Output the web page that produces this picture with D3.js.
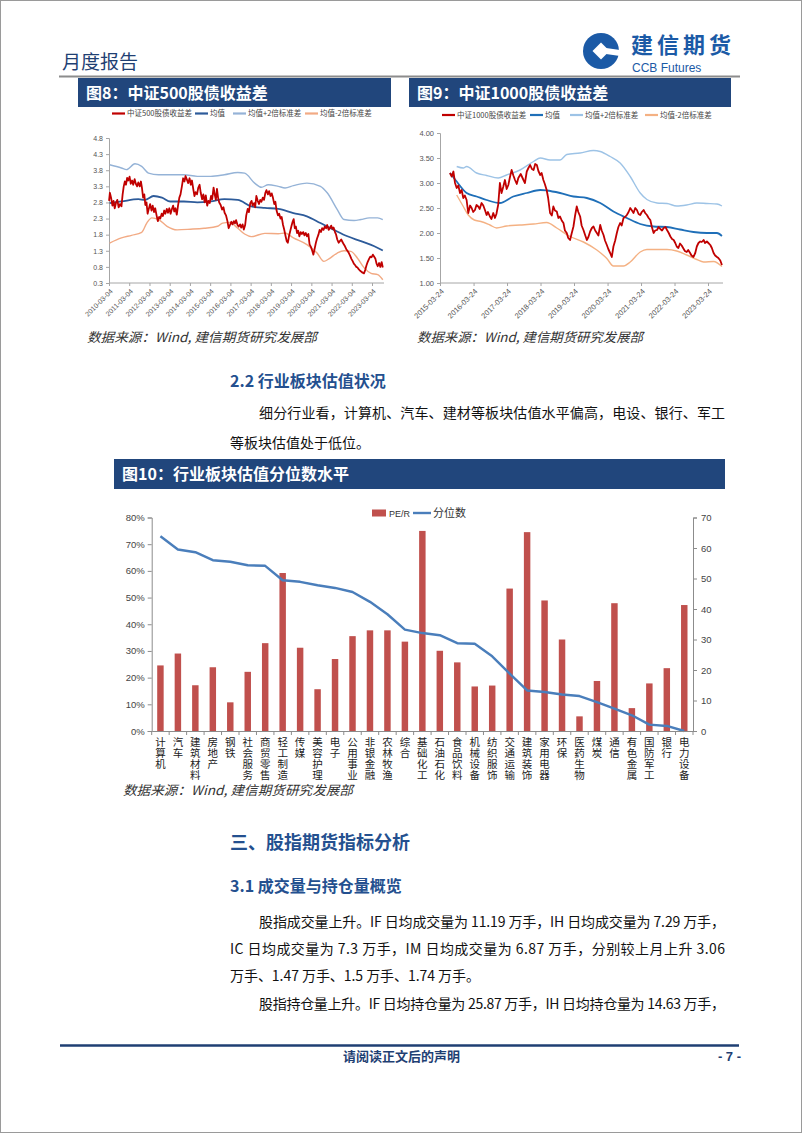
<!DOCTYPE html>
<html>
<head>
<meta charset="utf-8">
<script src="https://cdn.jsdelivr.net/npm/d3@7"></script>
<style>
  body { margin: 0; background: #fff; }
  svg { display: block; font-family: "Noto Sans CJK SC", "Noto Sans", sans-serif; }
</style>
</head>
<body>
<svg id="page" width="802" height="1133"></svg>
<script>
// ---------- 数据 ----------
// 图8 中证500股债收益差
var fig8Spread = [
  ['2010-03-05',2.85],['2010-03-20',3.10],['2010-04-10',2.95],['2010-05-05',2.70],['2010-05-25',2.85],['2010-06-15',2.62],
  ['2010-07-10',2.80],['2010-08-01',2.88],['2010-08-25',2.65],['2010-09-20',2.75],['2010-10-15',2.68],['2010-11-05',3.05],
  ['2010-11-25',3.30],['2010-12-15',3.45],['2011-01-05',3.35],['2011-01-25',3.56],['2011-02-15',3.48],['2011-03-10',3.60],
  ['2011-04-01',3.38],['2011-04-25',3.48],['2011-05-15',3.35],['2011-06-10',3.52],['2011-07-01',3.38],['2011-07-25',3.30],
  ['2011-08-15',3.42],['2011-09-10',3.30],['2011-10-01',3.45],['2011-10-20',3.25],['2011-11-10',2.95],['2011-12-01',3.05],
  ['2011-12-20',2.72],['2012-01-10',2.80],['2012-01-30',2.45],['2012-02-20',2.60],['2012-03-15',2.75],['2012-04-10',2.55],
  ['2012-05-01',2.70],['2012-05-25',2.50],['2012-06-15',2.62],['2012-07-10',2.40],['2012-08-01',2.22],['2012-08-25',2.35],
  ['2012-09-15',2.30],['2012-10-10',2.45],['2012-11-01',2.38],['2012-11-25',2.55],['2012-12-15',2.45],['2013-01-10',2.60],
  ['2013-02-01',2.48],['2013-02-25',2.62],['2013-03-20',2.45],['2013-04-10',2.58],['2013-05-05',2.70],['2013-05-25',2.52],
  ['2013-06-15',2.62],['2013-07-10',2.42],['2013-08-01',2.70],['2013-08-25',2.95],['2013-09-15',3.05],['2013-10-10',3.30],
  ['2013-11-01',3.55],['2013-11-25',3.45],['2013-12-15',3.62],['2014-01-10',3.50],['2014-02-01',3.40],['2014-02-25',3.55],
  ['2014-03-20',3.35],['2014-04-10',3.48],['2014-05-05',3.20],['2014-05-25',3.00],['2014-06-15',3.12],['2014-07-10',3.05],
  ['2014-08-01',3.25],['2014-08-25',3.35],['2014-09-15',3.10],['2014-10-10',2.90],['2014-11-01',3.05],['2014-11-25',2.80],
  ['2014-12-15',3.02],['2015-01-10',2.70],['2015-02-01',2.85],['2015-02-25',2.78],['2015-03-20',3.00],['2015-04-10',2.90],
  ['2015-05-05',3.26],['2015-05-25',3.05],['2015-06-15',2.88],['2015-07-05',3.22],['2015-07-25',2.95],['2015-08-15',2.80],
  ['2015-09-10',2.72],['2015-10-05',2.58],['2015-10-30',2.65],['2015-11-20',2.48],['2015-12-15',2.40],['2016-01-10',2.22],
  ['2016-02-01',2.00],['2016-02-25',2.10],['2016-03-20',2.20],['2016-04-10',2.12],['2016-05-05',2.22],['2016-05-25',2.15],
  ['2016-06-15',2.25],['2016-07-10',2.10],['2016-08-01',2.05],['2016-08-25',2.12],['2016-09-15',2.02],['2016-10-10',2.12],
  ['2016-11-01',1.96],['2016-11-25',2.10],['2016-12-15',2.40],['2017-01-10',2.60],['2017-02-01',2.50],['2017-02-25',2.78],
  ['2017-03-20',2.85],['2017-04-10',2.70],['2017-05-05',2.78],['2017-05-25',2.65],['2017-06-15',3.00],['2017-07-10',2.85],
  ['2017-08-01',2.75],['2017-08-25',2.88],['2017-09-15',2.82],['2017-10-10',2.95],['2017-11-01',2.88],['2017-11-25',3.10],
  ['2017-12-15',3.18],['2018-01-10',3.05],['2018-02-01',3.15],['2018-02-25',3.00],['2018-03-20',3.08],['2018-04-10',2.95],
  ['2018-05-05',2.75],['2018-05-25',2.82],['2018-06-15',2.55],['2018-07-10',2.40],['2018-08-01',2.45],['2018-08-25',2.30],
  ['2018-09-15',2.35],['2018-10-10',2.10],['2018-11-01',1.95],['2018-11-25',1.75],['2018-12-15',1.60],['2019-01-05',1.55],
  ['2019-01-25',1.75],['2019-02-15',1.90],['2019-03-10',2.06],['2019-04-01',2.20],['2019-04-20',2.28],['2019-05-10',2.00],
  ['2019-05-30',2.05],['2019-06-20',1.85],['2019-07-10',1.92],['2019-08-01',1.75],['2019-08-25',1.88],['2019-09-15',1.82],
  ['2019-10-10',1.88],['2019-11-01',1.78],['2019-11-25',1.85],['2019-12-15',1.75],['2020-01-10',1.82],['2020-02-01',1.50],
  ['2020-02-25',1.42],['2020-03-20',1.30],['2020-04-10',1.18],['2020-05-01',1.35],['2020-05-25',1.55],['2020-06-15',1.68],
  ['2020-07-10',1.80],['2020-08-01',1.95],['2020-08-25',1.88],['2020-09-15',2.00],['2020-10-10',1.95],['2020-11-01',2.05],
  ['2020-11-25',2.00],['2020-12-15',2.10],['2021-01-10',1.95],['2021-02-01',2.00],['2021-02-25',2.08],['2021-03-20',1.98],
  ['2021-04-10',2.02],['2021-05-05',1.88],['2021-05-25',1.80],['2021-06-15',1.65],['2021-07-10',1.55],['2021-08-01',1.60],
  ['2021-08-25',1.65],['2021-09-15',1.58],['2021-10-10',1.50],['2021-11-01',1.44],['2021-11-25',1.35],['2021-12-15',1.30],
  ['2022-01-10',1.23],['2022-02-01',1.15],['2022-02-25',1.05],['2022-03-20',0.98],['2022-04-10',0.90],['2022-05-05',0.85],
  ['2022-05-25',0.80],['2022-06-15',0.78],['2022-07-10',0.72],['2022-08-01',0.68],['2022-08-25',0.65],['2022-09-15',0.62],
  ['2022-10-10',0.60],['2022-11-01',0.70],['2022-11-25',0.85],['2022-12-15',0.95],['2023-01-10',1.05],['2023-02-01',1.12],
  ['2023-02-25',1.10],['2023-03-20',1.18],['2023-04-10',1.12],['2023-05-05',1.05],['2023-05-25',0.90],['2023-06-15',0.82],
  ['2023-07-10',0.92],['2023-08-01',0.80],['2023-08-25',0.95],['2023-09-15',0.78]
];
var fig8Mean = [
  ['2010-03-15',2.78],['2010-10-15',2.83],['2011-08-15',2.90],['2011-12-15',2.88],['2012-05-15',3.00],['2012-10-15',2.95],
  ['2013-03-15',2.83],['2013-11-15',2.83],['2014-07-15',2.80],['2015-03-15',2.83],['2015-11-15',2.90],['2016-07-15',2.88],
  ['2017-03-15',2.68],['2017-11-15',2.63],['2018-07-15',2.60],['2019-04-15',2.47],['2019-12-15',2.37],['2020-08-15',2.16],
  ['2021-04-15',1.95],['2021-12-15',1.75],['2022-08-15',1.60],['2023-04-15',1.44],['2023-09-15',1.31]
];
var fig8Upper = [
  ['2010-03-15',3.97],['2010-10-15',3.87],['2011-01-15',3.82],['2011-06-15',4.00],['2011-10-15',3.92],['2012-02-15',3.71],
  ['2012-08-15',3.66],['2013-03-15',3.66],['2013-11-15',3.66],['2014-07-15',3.61],['2015-03-15',3.61],['2015-11-15',3.66],
  ['2016-07-15',3.73],['2016-11-15',3.71],['2017-05-15',3.40],['2017-09-15',3.27],['2018-01-15',3.35],['2018-07-15',3.30],
  ['2018-11-15',3.25],['2019-04-15',3.32],['2019-12-15',3.40],['2020-08-15',3.30],['2020-12-15',3.10],['2021-06-15',2.58],
  ['2021-10-15',2.27],['2022-04-15',2.24],['2022-08-15',2.27],['2023-01-15',2.32],['2023-06-15',2.32],['2023-09-15',2.27]
];
var fig8Lower = [
  ['2010-03-15',1.54],['2010-10-15',1.70],['2011-04-15',1.78],['2011-10-15',1.87],['2012-01-15',2.16],['2012-04-15',2.32],
  ['2012-08-15',2.27],['2013-01-15',2.06],['2013-07-15',1.95],['2014-03-15',1.97],['2014-11-15',2.00],['2015-07-15',2.06],
  ['2015-10-15',2.16],['2016-02-15',2.18],['2016-07-15',2.00],['2016-11-15',1.82],['2017-03-15',1.74],['2017-11-15',1.84],
  ['2018-07-15',1.83],['2018-11-15',1.85],['2019-04-15',1.70],['2019-12-15',1.49],['2020-06-15',1.23],['2020-10-15',0.97],
  ['2021-01-15',1.05],['2021-06-15',1.23],['2021-10-15',1.30],['2022-02-15',1.28],['2022-06-15',1.07],['2022-10-15',0.77],
  ['2023-02-15',0.60],['2023-06-15',0.56],['2023-09-15',0.40]
];
var fig8Ticks = ['2010-03-04','2011-03-04','2012-03-04','2013-03-04','2014-03-04','2015-03-04','2016-03-04',
  '2017-03-04','2018-03-04','2019-03-04','2020-03-04','2021-03-04','2022-03-04','2023-03-04'];
var fig8YTicks = [0.3,0.8,1.3,1.8,2.3,2.8,3.3,3.8,4.3,4.8];

// 图9 中证1000股债收益差
var fig9Spread = [
  ['2015-07-10',3.20],['2015-07-30',3.13],['2015-08-17',3.23],['2015-09-04',3.00],['2015-09-22',2.90],['2015-10-10',2.95],
  ['2015-10-28',2.80],['2015-11-15',2.86],['2015-12-03',2.70],['2015-12-20',2.75],['2016-01-08',2.66],['2016-01-26',2.40],
  ['2016-02-15',2.55],['2016-03-03',2.50],['2016-03-20',2.42],['2016-04-08',2.46],['2016-04-25',2.56],['2016-05-14',2.53],
  ['2016-05-30',2.48],['2016-06-19',2.60],['2016-07-08',2.55],['2016-07-26',2.46],['2016-08-13',2.36],['2016-08-28',2.42],
  ['2016-09-18',2.33],['2016-10-05',2.28],['2016-10-25',2.40],['2016-11-12',2.30],['2016-11-28',2.38],['2016-12-18',2.57],
  ['2017-01-05',3.00],['2017-01-23',2.80],['2017-02-10',2.92],['2017-03-01',3.06],['2017-03-20',2.88],['2017-04-07',2.96],
  ['2017-04-25',3.12],['2017-05-13',3.26],['2017-06-01',3.15],['2017-06-19',3.06],['2017-07-08',2.98],['2017-07-25',3.10],
  ['2017-08-20',3.18],['2017-09-19',3.06],['2017-10-05',3.00],['2017-10-25',3.23],['2017-11-12',3.30],['2017-12-01',3.36],
  ['2017-12-20',3.28],['2018-01-07',3.26],['2018-01-25',3.38],['2018-02-12',3.36],['2018-03-01',3.24],['2018-03-21',3.16],
  ['2018-04-05',3.20],['2018-04-24',3.06],['2018-05-10',2.98],['2018-05-30',2.86],['2018-06-15',2.70],['2018-07-06',2.40],
  ['2018-07-25',2.35],['2018-08-11',2.53],['2018-08-28',2.45],['2018-09-17',2.43],['2018-10-05',2.30],['2018-10-23',2.33],
  ['2018-11-10',2.25],['2018-11-29',2.20],['2018-12-15',2.05],['2019-01-04',2.00],['2019-01-20',1.90],['2019-02-09',1.86],
  ['2019-02-25',1.98],['2019-03-18',2.13],['2019-04-05',2.35],['2019-04-23',2.53],['2019-05-10',2.42],['2019-05-30',2.33],
  ['2019-06-15',2.15],['2019-07-05',2.06],['2019-07-25',1.95],['2019-08-11',1.86],['2019-08-28',1.92],['2019-09-16',2.03],
  ['2019-10-05',2.10],['2019-10-23',2.13],['2019-11-10',2.05],['2019-11-28',2.00],['2019-12-15',1.95],['2020-01-04',2.16],
  ['2020-01-20',2.05],['2020-02-09',1.96],['2020-02-25',1.85],['2020-03-16',1.76],['2020-04-01',1.68],['2020-04-21',1.60],
  ['2020-05-09',1.52],['2020-05-27',1.73],['2020-06-15',1.85],['2020-07-03',2.00],['2020-07-20',2.12],['2020-08-08',2.20],
  ['2020-08-25',2.15],['2020-09-14',2.30],['2020-10-01',2.32],['2020-10-20',2.36],['2020-11-08',2.42],['2020-11-26',2.50],
  ['2020-12-15',2.45],['2021-01-01',2.40],['2021-01-20',2.50],['2021-02-07',2.46],['2021-02-25',2.38],['2021-03-15',2.36],
  ['2021-04-01',2.42],['2021-04-21',2.46],['2021-05-08',2.40],['2021-05-27',2.36],['2021-06-15',2.30],['2021-07-03',2.26],
  ['2021-07-20',2.12],['2021-08-08',2.00],['2021-08-25',2.05],['2021-09-14',2.06],['2021-10-01',2.12],['2021-10-20',2.08],
  ['2021-11-08',2.05],['2021-11-26',2.10],['2021-12-15',2.12],['2022-01-01',2.06],['2022-01-20',2.00],['2022-02-07',1.93],
  ['2022-02-25',1.88],['2022-03-15',1.86],['2022-04-01',1.80],['2022-04-17',1.73],['2022-05-05',1.70],['2022-05-23',1.79],
  ['2022-06-10',1.75],['2022-06-29',1.69],['2022-07-15',1.64],['2022-08-04',1.62],['2022-08-20',1.66],['2022-09-10',1.60],
  ['2022-09-25',1.55],['2022-10-16',1.52],['2022-11-05',1.60],['2022-11-22',1.73],['2022-12-10',1.80],['2022-12-29',1.83],
  ['2023-01-15',1.82],['2023-02-04',1.86],['2023-02-20',1.80],['2023-03-12',1.83],['2023-03-28',1.80],['2023-04-18',1.76],
  ['2023-05-05',1.70],['2023-05-24',1.60],['2023-06-10',1.55],['2023-06-30',1.52],['2023-07-15',1.50],['2023-08-05',1.45],
  ['2023-08-23',1.36]
];
var fig9Mean = [
  ['2015-07-12',3.20],['2015-09-22',3.03],['2016-01-08',2.80],['2016-04-26',2.73],['2016-08-13',2.66],['2017-01-05',2.60],
  ['2017-05-31',2.73],['2017-10-25',2.80],['2018-03-21',2.86],['2018-05-30',2.85],['2018-10-23',2.80],['2019-03-18',2.73],
  ['2019-08-11',2.70],['2020-01-04',2.60],['2020-05-27',2.43],['2020-10-20',2.30],['2021-03-15',2.18],['2021-08-08',2.13],
  ['2022-01-01',2.12],['2022-05-23',2.07],['2022-10-16',2.02],['2023-03-12',2.00],['2023-06-30',2.00],['2023-08-23',1.94]
];
var fig9Upper = [
  ['2015-09-22',3.33],['2015-12-03',3.30],['2016-01-08',3.33],['2016-04-26',3.20],['2016-08-13',3.15],['2016-12-18',3.10],
  ['2017-03-19',3.16],['2017-08-12',3.26],['2018-01-07',3.43],['2018-03-21',3.50],['2018-07-06',3.46],['2018-10-23',3.46],
  ['2019-01-04',3.57],['2019-05-30',3.60],['2019-10-23',3.65],['2020-01-04',3.63],['2020-04-21',3.53],['2020-08-08',3.40],
  ['2020-11-26',3.13],['2021-03-15',2.80],['2021-05-27',2.67],['2021-09-14',2.60],['2022-01-01',2.59],['2022-04-17',2.54],
  ['2022-08-04',2.56],['2022-11-22',2.60],['2023-03-12',2.59],['2023-06-30',2.58],['2023-08-23',2.54]
];
var fig9Lower = [
  ['2015-09-22',2.76],['2015-12-03',2.53],['2016-01-26',2.36],['2016-04-01',2.26],['2016-06-12',2.23],['2016-09-18',2.16],
  ['2016-11-30',2.10],['2017-03-19',2.14],['2017-08-12',2.16],['2018-01-07',2.18],['2018-05-30',2.21],['2018-09-17',2.10],
  ['2019-02-09',1.93],['2019-07-05',1.82],['2019-11-28',1.66],['2020-03-16',1.49],['2020-05-27',1.34],['2020-09-14',1.34],
  ['2020-11-26',1.42],['2021-03-15',1.62],['2021-05-27',1.67],['2022-01-01',1.67],['2022-04-17',1.64],['2022-08-04',1.56],
  ['2022-11-22',1.47],['2023-02-04',1.42],['2023-05-24',1.43],['2023-08-23',1.33]
];
var fig9Ticks = ['2015-03-24','2016-03-24','2017-03-24','2018-03-24','2019-03-24','2020-03-24','2021-03-24','2022-03-24','2023-03-24'];
var fig9YTicks = [1.0,1.5,2.0,2.5,3.0,3.5,4.0];

// 图10 行业板块估值
var industries = ['计算机','汽车','建筑材料','房地产','钢铁','社会服务','商贸零售','轻工制造','传媒','美容护理','电子',
  '公用事业','非银金融','农林牧渔','综合','基础化工','石油石化','食品饮料','机械设备','纺织服饰','交通运输','建筑装饰',
  '家用电器','环保','医药生物','煤炭','通信','有色金属','国防军工','银行','电力设备'];
var peR = [21.5,25.4,15.0,20.9,9.4,19.4,28.8,51.8,27.3,13.7,23.6,31.1,33.0,33.0,29.3,65.6,26.3,22.5,14.6,14.9,46.7,65.2,
  42.8,30.0,4.8,16.4,41.9,7.5,15.6,20.6,41.3];
var percentile = [0.73,0.68,0.67,0.64,0.634,0.621,0.619,0.565,0.559,0.546,0.536,0.521,0.484,0.4375,0.38,0.367,0.359,0.329,
  0.327,0.28,0.215,0.152,0.146,0.137,0.131,0.108,0.084,0.059,0.024,0.019,0];
var leftTicks = [0,0.1,0.2,0.3,0.4,0.5,0.6,0.7,0.8];
var rightTicks = [0,10,20,30,40,50,60,70];

// ---------- 描画 ----------
var svg = d3.select('#page');
var parseDay = d3.timeParse('%Y-%m-%d');
var fmtDay = d3.timeFormat('%Y-%m-%d');
var navy = '#1f3f73';
var barBlue = '#21467c';
var headBlue = '#24508f';
var latin = '"Liberation Sans", Arial, sans-serif';

svg.append('rect').attr('x', 0.5).attr('y', 0.5).attr('width', 801).attr('height', 1132)
  .attr('fill', '#fff').attr('stroke', '#9a9a9a');

// ヘッダー
svg.append('text').attr('x', 62).attr('y', 69).attr('font-size', 19).attr('fill', navy).text('月度报告');
svg.append('line').attr('x1', 59).attr('x2', 740).attr('y1', 76.5).attr('y2', 76.5)
  .attr('stroke', '#8c8c8c').attr('stroke-width', 2);

// ロゴ
var logo = svg.append('g').attr('transform', 'translate(601,51)');
logo.append('circle').attr('r', 18).attr('fill', '#1b5aa6');
logo.append('path').attr('d', 'M0,-8.5 L8.5,0 L0,8.5 L-8.5,0 Z').attr('fill', '#fff');
logo.append('path').attr('d', 'M5,-3 L19,-1 L19,5 L5,3 Z').attr('fill', '#fff');
svg.append('text').attr('x', 631).attr('y', 53).attr('font-size', 22).attr('font-weight', 'bold')
  .attr('fill', '#1b5aa6').attr('textLength', 100).text('建信期货');
svg.append('text').attr('x', 632).attr('y', 72).attr('font-size', 12).attr('font-family', latin)
  .attr('fill', '#1b5aa6').text('CCB Futures');

function titleBar(x, y, w, h, label) {
  svg.append('rect').attr('x', x).attr('y', y).attr('width', w).attr('height', h).attr('fill', barBlue);
  svg.append('text').attr('x', x + 8).attr('y', y + h / 2 + 6).attr('font-size', 16).attr('font-weight', 'bold')
    .attr('fill', '#fff').text(label);
}

function sourceNote(x, y, w) {
  svg.append('text').attr('x', x).attr('y', y).attr('font-size', 13).attr('font-style', 'italic')
    .attr('fill', '#333').attr('textLength', w).attr('lengthAdjust', 'spacingAndGlyphs')
    .text('数据来源：Wind, 建信期货研究发展部');
}

// 股債収益差チャート
function spreadChart(cfg) {
  var g = svg.append('g');
  var x = d3.scaleTime()
    .domain([parseDay(cfg.ticks[0]), parseDay(cfg.ticks[cfg.ticks.length - 1])])
    .range(cfg.tickRange);
  var y = d3.scaleLinear().domain(cfg.yDomain).range([cfg.bottom, cfg.top]);

  var yAxis = g.append('g').attr('transform', 'translate(' + cfg.left + ',0)')
    .call(d3.axisLeft(y).tickValues(cfg.yTicks).tickSize(3).tickPadding(3).tickFormat(d3.format(cfg.yFormat)));
  yAxis.select('.domain').attr('stroke', '#a6a6a6');
  yAxis.selectAll('.tick line').attr('stroke', '#a6a6a6');
  yAxis.selectAll('.tick text').attr('fill', '#555').attr('font-size', cfg.labelSize).attr('font-family', latin);

  var xAxis = g.append('g').attr('transform', 'translate(0,' + cfg.bottom + ')')
    .call(d3.axisBottom(x).tickValues(cfg.ticks.map(parseDay)).tickSize(3).tickFormat(fmtDay));
  xAxis.select('.domain').remove();
  xAxis.append('line').attr('x1', cfg.left).attr('x2', cfg.right).attr('stroke', '#a6a6a6');
  xAxis.selectAll('.tick line').attr('stroke', '#a6a6a6');
  xAxis.selectAll('.tick text')
    .attr('x', 0).attr('y', 0).attr('dy', '0.35em')
    .attr('transform', 'translate(2,7) rotate(-45)')
    .attr('text-anchor', 'end')
    .attr('fill', '#555').attr('font-size', cfg.labelSize).attr('font-family', latin);

  var line = d3.line().x(function(d) { return x(parseDay(d[0])); }).y(function(d) { return y(d[1]); });
  cfg.series.forEach(function(s) {
    g.append('path').datum(s.data)
      .attr('d', line.curve(s.smooth ? d3.curveMonotoneX : d3.curveLinear))
      .attr('fill', 'none').attr('stroke', s.color).attr('stroke-width', s.width)
      .attr('stroke-linejoin', 'round');
  });

  // 凡例（表示順は legend の値）
  cfg.series.forEach(function(s) {
    var lx = cfg.legendX[s.legend];
    g.append('line').attr('x1', lx).attr('x2', lx + 13).attr('y1', cfg.legendY).attr('y2', cfg.legendY)
      .attr('stroke', s.color).attr('stroke-width', 2.2);
    g.append('text').attr('x', lx + 15).attr('y', cfg.legendY + 2.5).attr('font-size', 7.5)
      .attr('fill', '#444').text(s.name);
  });
}

titleBar(78, 78, 313, 29, '图8：中证500股债收益差');
titleBar(409, 78, 322, 29, '图9：中证1000股债收益差');

spreadChart({
  ticks: fig8Ticks, tickRange: [109, 372], yDomain: [0.3, 4.8], yTicks: fig8YTicks, yFormat: '.1f',
  left: 109, right: 384, top: 138, bottom: 283, labelSize: 7,
  legendX: [112, 195, 233, 305], legendY: 113.5,
  series: [
    {name: '均值+2倍标准差', data: fig8Upper, color: '#95b3d7', width: 1.4, smooth: true, legend: 2},
    {name: '均值-2倍标准差', data: fig8Lower, color: '#f2aa84', width: 1.4, smooth: true, legend: 3},
    {name: '均值', data: fig8Mean, color: '#2d5b9a', width: 1.8, smooth: true, legend: 1},
    {name: '中证500股债收益差', data: fig8Spread, color: '#c00000', width: 1.8, smooth: false, legend: 0}
  ]
});

spreadChart({
  ticks: fig9Ticks, tickRange: [440, 708], yDomain: [1, 4], yTicks: fig9YTicks, yFormat: '.2f',
  left: 440, right: 723, top: 133, bottom: 283, labelSize: 7.5,
  legendX: [442, 530, 570, 645], legendY: 115,
  series: [
    {name: '均值+2倍标准差', data: fig9Upper, color: '#9dc3e6', width: 1.4, smooth: true, legend: 2},
    {name: '均值-2倍标准差', data: fig9Lower, color: '#f4b183', width: 1.4, smooth: true, legend: 3},
    {name: '均值', data: fig9Mean, color: '#1f6fb8', width: 1.8, smooth: true, legend: 1},
    {name: '中证1000股债收益差', data: fig9Spread, color: '#c00000', width: 1.8, smooth: false, legend: 0}
  ]
});

sourceNote(87, 342, 230);
sourceNote(417, 342, 226);

// 本文 2.2
svg.append('text').attr('x', 230).attr('y', 387).attr('font-size', 16).attr('font-weight', 'bold')
  .attr('fill', headBlue).text('2.2 行业板块估值状况');

function bodyLine(x, y, w, str) {
  var t = svg.append('text').attr('x', x).attr('y', y).attr('font-size', 14).attr('fill', '#111').text(str);
  if (w) t.attr('textLength', w).attr('lengthAdjust', 'spacing');
}
bodyLine(259, 418, 466, '细分行业看，计算机、汽车、建材等板块估值水平偏高，电设、银行、军工');
bodyLine(230, 448, 0, '等板块估值处于低位。');

// 図10
titleBar(114, 459, 611, 30, '图10：行业板块估值分位数水平');

(function() {
  var g = svg.append('g');
  var x = d3.scaleBand().domain(industries).range([151.7, 693]).paddingInner(0.63).paddingOuter(0.315);
  var yL = d3.scaleLinear().domain([0, 0.8]).range([731, 517.5]);
  var yR = d3.scaleLinear().domain([0, 70]).range([731, 517.5]);

  var axL = g.append('g').attr('transform', 'translate(151.7,0)')
    .call(d3.axisLeft(yL).tickValues(leftTicks).tickSize(4).tickPadding(3).tickFormat(d3.format('.0%')));
  var axR = g.append('g').attr('transform', 'translate(693,0)')
    .call(d3.axisRight(yR).tickValues(rightTicks).tickSize(4).tickPadding(4));
  [axL, axR].forEach(function(a) {
    a.select('.domain').attr('stroke', '#8c8c8c');
    a.selectAll('.tick line').attr('stroke', '#8c8c8c');
    a.selectAll('.tick text').attr('fill', '#444').attr('font-size', 9.5).attr('font-family', latin);
  });

  // 柱
  g.selectAll('.bar').data(industries).enter().append('rect')
    .attr('class', 'bar')
    .attr('x', function(d) { return x(d); })
    .attr('width', x.bandwidth())
    .attr('y', function(d, i) { return yR(peR[i]); })
    .attr('height', function(d, i) { return yR(0) - yR(peR[i]); })
    .attr('fill', '#c0504d');

  // 分位数の線
  var line = d3.line()
    .x(function(d, i) { return x(industries[i]) + x.bandwidth() / 2; })
    .y(function(d) { return yL(d); });
  g.append('path').datum(percentile).attr('d', line)
    .attr('fill', 'none').attr('stroke', '#4a7ebb').attr('stroke-width', 2.4).attr('stroke-linejoin', 'round');

  // x軸（縦書きラベル）
  var axB = g.append('g').attr('transform', 'translate(0,731)')
    .call(d3.axisBottom(x).tickSize(0));
  axB.select('.domain').attr('stroke', '#8c8c8c');
  axB.selectAll('.tick text')
    .attr('x', 0).attr('y', 6).attr('dy', null)
    .attr('writing-mode', 'vertical-rl')
    .style('writing-mode', 'vertical-rl')
    .attr('text-anchor', 'start')
    .attr('letter-spacing', 0.5)
    .attr('font-size', 10.5).attr('fill', '#222')
    .attr('font-family', '"Noto Sans CJK SC", sans-serif');
  d3.range(industries.length + 1).forEach(function(i) {
    var bx = x.range()[0] + i * x.step();
    axB.append('line').attr('x1', bx).attr('x2', bx).attr('y1', 0).attr('y2', 4).attr('stroke', '#8c8c8c');
  });

  // 凡例
  g.append('rect').attr('x', 372).attr('y', 509.5).attr('width', 14).attr('height', 7).attr('fill', '#c0504d');
  g.append('text').attr('x', 389).attr('y', 516.5).attr('font-size', 9).attr('fill', '#333')
    .attr('font-family', latin).text('PE/R');
  g.append('line').attr('x1', 413).attr('x2', 431).attr('y1', 513).attr('y2', 513)
    .attr('stroke', '#4a7ebb').attr('stroke-width', 2.4);
  g.append('text').attr('x', 433).attr('y', 517).attr('font-size', 11).attr('fill', '#333').text('分位数');
})();

sourceNote(123, 795, 230);

// 三、股指期货指标分析
svg.append('text').attr('x', 230).attr('y', 849).attr('font-size', 18).attr('font-weight', 'bold')
  .attr('fill', headBlue).text('三、股指期货指标分析');
svg.append('text').attr('x', 230).attr('y', 892).attr('font-size', 16).attr('font-weight', 'bold')
  .attr('fill', headBlue).text('3.1 成交量与持仓量概览');

bodyLine(259, 927, 466, '股指成交量上升。IF 日均成交量为 11.19 万手，IH 日均成交量为 7.29 万手，');
bodyLine(230, 954, 495, 'IC 日均成交量为 7.3 万手，IM 日均成交量为 6.87 万手，分别较上月上升 3.06');
bodyLine(230, 981, 250, '万手、1.47 万手、1.5 万手、1.74 万手。');
bodyLine(259, 1009, 466, '股指持仓量上升。IF 日均持仓量为 25.87 万手，IH 日均持仓量为 14.63 万手，');

// フッター
svg.append('line').attr('x1', 60).attr('x2', 739).attr('y1', 1045.5).attr('y2', 1045.5)
  .attr('stroke', navy).attr('stroke-width', 2.5);
svg.append('text').attr('x', 343).attr('y', 1061).attr('font-size', 13).attr('font-weight', 'bold')
  .attr('fill', navy).text('请阅读正文后的声明');
svg.append('text').attr('x', 741).attr('y', 1061).attr('text-anchor', 'end').attr('font-size', 13)
  .attr('font-weight', 'bold').attr('fill', navy).attr('font-family', latin).text('- 7 -');
</script>
</body>
</html>
